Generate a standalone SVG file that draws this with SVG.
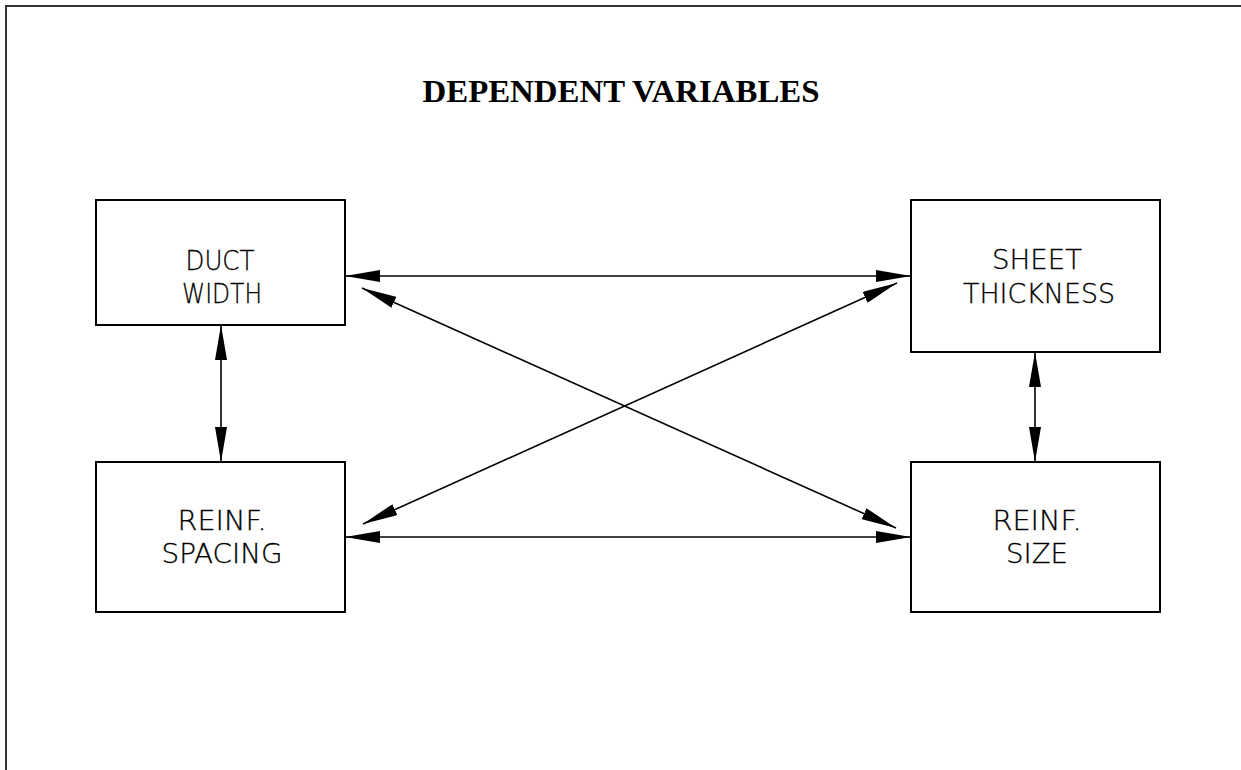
<svg xmlns="http://www.w3.org/2000/svg" width="1241" height="770" viewBox="0 0 1241 770">
<style>
.box{fill:#fff;stroke:#000;stroke-width:2}
.lbl{font-family:"DejaVu Sans","Liberation Sans",sans-serif;font-weight:200;font-size:26px;fill:#000;text-anchor:middle;stroke:#000;stroke-width:0.3}
.con{stroke:#000;stroke-width:1.6;fill:none;marker-start:url(#ah);marker-end:url(#ah)}
.title{font-family:"Liberation Serif",serif;font-weight:bold;font-size:32px;fill:#000;text-anchor:middle}
</style>
<defs>
<marker id="ah" viewBox="0 0 35 12" refX="35" refY="6" markerWidth="35" markerHeight="12" markerUnits="userSpaceOnUse" orient="auto-start-reverse">
<path d="M0,0 L35,6 L0,12 Z" fill="#000"/>
</marker>
</defs>
<rect width="1241" height="770" fill="#fff"/>
<path d="M6,770 L6,6 L1241,6" fill="none" stroke="#333" stroke-width="2"/>
<text class="title" x="621" y="102" textLength="397" lengthAdjust="spacingAndGlyphs">DEPENDENT VARIABLES</text>
<g id="connectors">
<line class="con" x1="345" y1="276" x2="911" y2="276"/>
<line class="con" x1="345" y1="537" x2="911" y2="537"/>
<line class="con" x1="221" y1="325" x2="221" y2="462"/>
<line class="con" x1="1035" y1="352" x2="1035" y2="462"/>
<line class="con" x1="362" y1="288" x2="896" y2="528"/>
<line class="con" x1="897" y1="283" x2="363" y2="524"/>
</g>
<g id="duct-width">
<rect class="box" x="96" y="200" width="249" height="125"/>
<text class="lbl" x="220" y="270" textLength="69" lengthAdjust="spacingAndGlyphs">DUCT</text>
<text class="lbl" x="222" y="303" textLength="80" lengthAdjust="spacingAndGlyphs">WIDTH</text>
</g>
<g id="sheet-thickness">
<rect class="box" x="911" y="200" width="249" height="152"/>
<text class="lbl" x="1037" y="269" textLength="90" lengthAdjust="spacingAndGlyphs">SHEET</text>
<text class="lbl" x="1039" y="303" textLength="152" lengthAdjust="spacingAndGlyphs">THICKNESS</text>
</g>
<g id="reinf-spacing">
<rect class="box" x="96" y="462" width="249" height="150"/>
<text class="lbl" x="222" y="530" textLength="89" lengthAdjust="spacingAndGlyphs">REINF.</text>
<text class="lbl" x="222" y="563" textLength="121" lengthAdjust="spacingAndGlyphs">SPACING</text>
</g>
<g id="reinf-size">
<rect class="box" x="911" y="462" width="249" height="150"/>
<text class="lbl" x="1037" y="530" textLength="89" lengthAdjust="spacingAndGlyphs">REINF.</text>
<text class="lbl" x="1037" y="563" textLength="62" lengthAdjust="spacingAndGlyphs">SIZE</text>
</g>
</svg>
